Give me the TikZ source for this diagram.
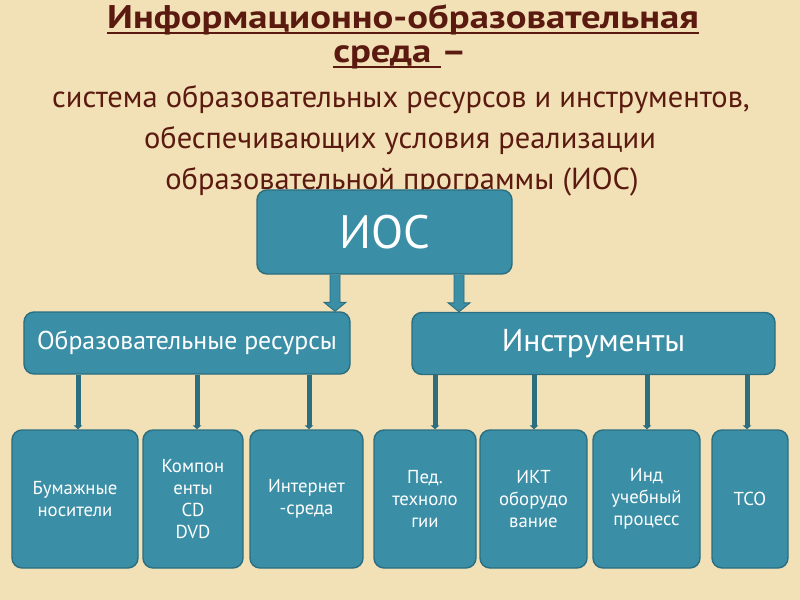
\documentclass[tikz,border=0pt]{standalone}
\usepackage{fontspec}
\setmainfont{PT Sans}
\newfontfamily\headfont[FakeStretch=1.18]{PT Sans}
\usetikzlibrary{calc,arrows.meta}
\definecolor{iosbg}{HTML}{F2E0B6}
\definecolor{iosteal}{HTML}{3A8EA6}
\definecolor{iosedge}{HTML}{2B6E80}
\definecolor{iosbrown}{HTML}{5B1A10}
\newcommand{\ulbar}[1]{\setbox0=\hbox{#1}\dp0=0pt\vtop{\box0\kern2.5pt\hrule height 1.5pt}}
\tikzset{every node/.style={font=\fontsize{14}{18}\selectfont},
  tealbox/.style={draw=iosedge,fill=iosteal,line width=1.2pt,rounded corners=3mm,
    text=white,align=center,inner sep=0.5mm},
  parentbox/.style={tealbox,minimum height=18.6mm,font=\fontsize{22}{26}\selectfont},
  leafbox/.style={tealbox,minimum height=41.4mm,font=\fontsize{16}{18.8}\selectfont},
  titleline/.style={anchor=base,text=iosbrown,inner sep=0},
  headline/.style={titleline,font=\headfont\bfseries\fontsize{28}{32}\selectfont},
  link/.style={draw=iosedge,line width=1.5mm,-{Triangle[width=2.6mm,length=1.2mm]}}}

\begin{document}
\begin{tikzpicture}[x=0.3mm,y=-0.3mm]
  \fill[iosbg] (0,0) rectangle (800,600);
  \path[use as bounding box] (0,0) rectangle (800,600);
  % heading
  \node[headline] (t1) at (403,29) {\ulbar{Информационно-образовательная}};
  \node[headline] (t2) at (400,63) {\ulbar{среда }–};
  \node[titleline,font=\fontsize{26}{30}\selectfont] (t3) at (401,108)
    {система образовательных ресурсов и инструментов,};
  \node[titleline,font=\fontsize{26}{30}\selectfont] (t4) at (400,149)
    {обеспечивающих условия реализации};
  \node[titleline,font=\fontsize{26}{30}\selectfont] (t5) at (402,190)
    {образовательной программы (ИОС)};
  % top levels
  \node[tealbox,minimum width=76.5mm,minimum height=25.2mm,
    font=\fontsize{40}{44}\selectfont] (ios) at (384.5,232) {ИОС};
  \node[parentbox,minimum width=97.8mm] (res) at (187,343) {Образовательные ресурсы};
  \node[parentbox,minimum width=108.9mm,font=\fontsize{27}{30}\selectfont] (ins)
    at (593.5,343.5) {Инструменты};
  \foreach \x/\dst in {335/res,459/ins} {
    \coordinate (top) at (\x,0 |- ios.south);
    \coordinate (tip) at (\x,0 |- \dst.north);
    \filldraw[draw=iosedge,fill=iosteal,line width=0.8pt] ($(top)+(-5,0)$)
      -- ($(tip)+(-5,-9)$) -- ($(tip)+(-11,-9)$) -- (tip) -- ($(tip)+(11,-9)$)
      -- ($(tip)+(5,-9)$) -- ($(top)+(5,0)$);
  }
  % leaves
  \foreach \name/\x/\w/\lx/\txt in {r1/75/37.8/78/{Бумажные\\носители},
      r2/193/30/197/{Компон\\енты\\CD\\DVD},r3/306.5/33.9/309/{Интернет\\-среда}} {
    \node[leafbox,minimum width=\w mm] (\name) at (\x,499) {\txt};
    \draw[link] (\lx,0 |- res.south) -- (\lx,0 |- \name.north);
  }
  \foreach \name/\x/\w/\lx/\txt in {i1/425/30.6/435/{Пед.\\техноло\\гии},
      i2/533.5/32.1/534/{ИКТ\\оборудо\\вание},i3/646.5/32.1/647/{Инд\\учебный\\процесс},
      i4/750/22.8/747/{ТСО}} {
    \node[leafbox,minimum width=\w mm] (\name) at (\x,499) {\txt};
    \draw[link] (\lx,0 |- ins.south) -- (\lx,0 |- \name.north);
  }
\end{tikzpicture}
\end{document}
